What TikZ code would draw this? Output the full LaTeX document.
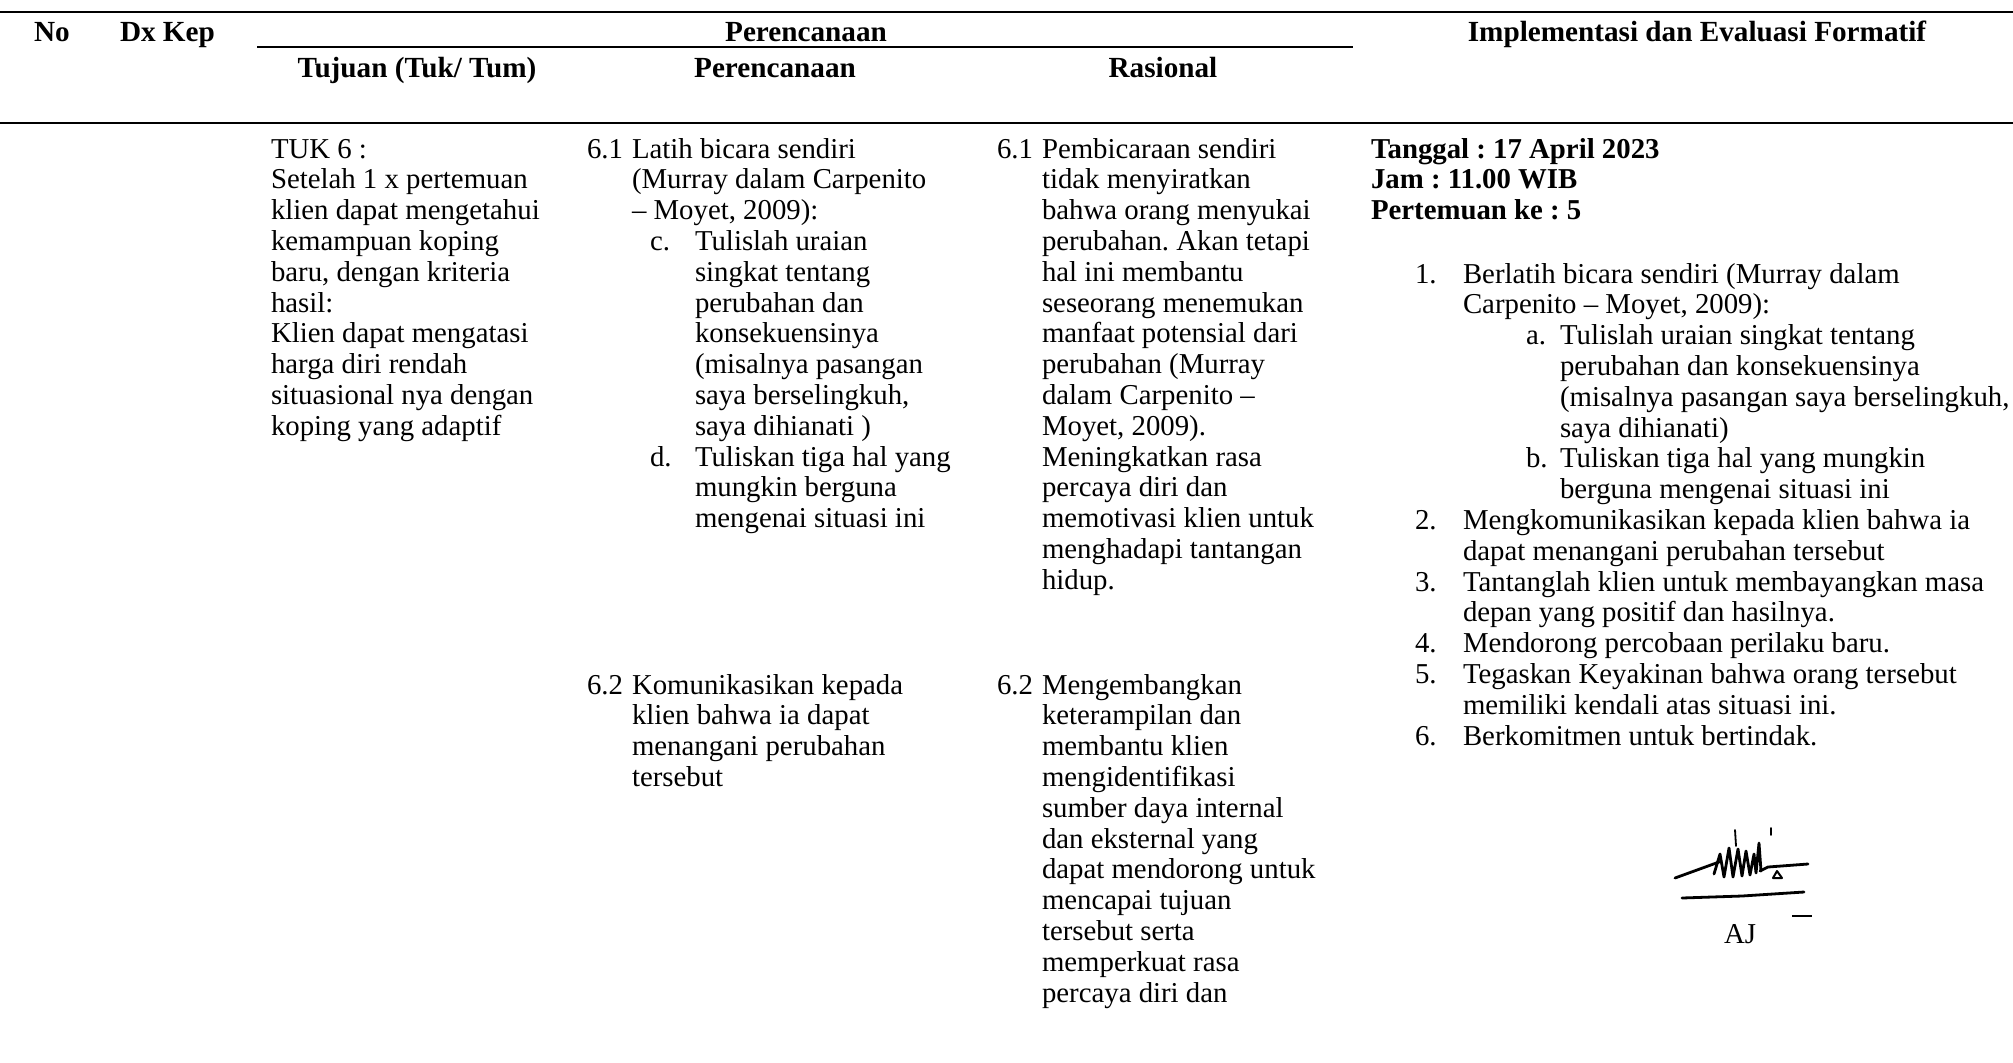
\documentclass[tikz,border=0pt]{standalone}
\usepackage{fontspec}
\setmainfont{Liberation Serif}
\frenchspacing
\newcommand{\rowsblock}[1]{\begin{tabular}[t]{@{}l@{}}#1\end{tabular}}
\begin{document}
\begin{tikzpicture}[x=0.5pt,y=-0.5pt,
  every node/.style={inner sep=0pt,outer sep=0pt,font=\fontsize{14.4}{15.4}\selectfont},
  txt/.style={anchor=base west},
  hdr/.style={anchor=base,font=\fontsize{14.6}{15.4}\selectfont\bfseries},
  hdrl/.style={anchor=base west,font=\fontsize{14.6}{15.4}\selectfont\bfseries},
  rule/.style={line width=1.25pt},
  sig/.style={line width=1.4pt,line cap=round,line join=round}]
\useasboundingbox (0,0) rectangle (2013,1062);
% table rules
\draw[rule] (0,12) -- (2013,12);
\draw[rule] (257,47) -- (1353,47);
\draw[rule] (0,123) -- (2013,123);
% header row
\node[hdrl] (hno) at (34,41.5) {No};
\node[hdrl] (hdx) at (120,41.5) {Dx Kep};
\node[hdr] (hper) at (806,41.5) {Perencanaan};
\node[hdr] (himp) at (1697,41.5) {Implementasi dan Evaluasi Formatif};
\node[hdr] (htuj) at (417,77) {Tujuan (Tuk/ Tum)};
\node[hdr] (hper2) at (775,77) {Perencanaan};
\node[hdr] (hras) at (1163,77) {Rasional};
% column: tujuan
\node[txt] (tuk) at (271,158) {\rowsblock{TUK 6 :\\ Setelah 1 x pertemuan\\ klien dapat mengetahui\\ kemampuan koping\\ baru, dengan kriteria\\ hasil:\\ Klien dapat mengatasi\\ harga diri rendah\\ situasional nya dengan\\ koping yang adaptif}};
% column: perencanaan
\node[txt] (p61n) at (587,158) {6.1};
\node[txt] (p61) at (632,158) {\rowsblock{Latih bicara sendiri\\ (Murray dalam Carpenito\\ – Moyet, 2009):}};
\node[txt] (pcn) at (650,250.4) {c.};
\node[txt] (pc) at (695,250.4) {\rowsblock{Tulislah uraian\\ singkat tentang\\ perubahan dan\\ konsekuensinya\\ (misalnya pasangan\\ saya berselingkuh,\\ saya dihianati )}};
\node[txt] (pdn) at (650,466) {d.};
\node[txt] (pd) at (695,466) {\rowsblock{Tuliskan tiga hal yang\\ mungkin berguna\\ mengenai situasi ini}};
\node[txt] (p62n) at (587,694) {6.2};
\node[txt] (p62) at (632,694) {\rowsblock{Komunikasikan kepada\\ klien bahwa ia dapat\\ menangani perubahan\\ tersebut}};
% column: rasional
\node[txt] (r61n) at (997,158) {6.1};
\node[txt] (r61) at (1042,158) {\rowsblock{Pembicaraan sendiri\\ tidak menyiratkan\\ bahwa orang menyukai\\ perubahan. Akan tetapi\\ hal ini membantu\\ seseorang menemukan\\ manfaat potensial dari\\ perubahan (Murray\\ dalam Carpenito –\\ Moyet, 2009).\\ Meningkatkan rasa\\ percaya diri dan\\ memotivasi klien untuk\\ menghadapi tantangan\\ hidup.}};
\node[txt] (r62n) at (997,694) {6.2};
\node[txt] (r62) at (1042,694) {\rowsblock{Mengembangkan\\ keterampilan dan\\ membantu klien\\ mengidentifikasi\\ sumber daya internal\\ dan eksternal yang\\ dapat mendorong untuk\\ mencapai tujuan\\ tersebut serta\\ memperkuat rasa\\ percaya diri dan}};
% column: implementasi
\node[txt,font=\fontsize{14.4}{15.4}\selectfont\bfseries] (ihead) at (1371,158) {\rowsblock{Tanggal : 17 April 2023\\ Jam : 11.00 WIB\\ Pertemuan ke : 5}};
\node[txt] (i1n) at (1415,283) {1.};
\node[txt] (i1) at (1463,283) {\rowsblock{Berlatih bicara sendiri (Murray dalam\\ Carpenito – Moyet, 2009):}};
\node[txt] (ian) at (1526,344.6) {a.};
\node[txt] (ia) at (1560,344.6) {\rowsblock{Tulislah uraian singkat tentang\\ perubahan dan konsekuensinya\\ (misalnya pasangan saya berselingkuh,\\ saya dihianati)}};
\node[txt] (ibn) at (1526,467.8) {b.};
\node[txt] (ib) at (1560,467.8) {\rowsblock{Tuliskan tiga hal yang mungkin\\ berguna mengenai situasi ini}};
\node[txt] (i2n) at (1415,529.4) {2.};
\node[txt] (i2) at (1463,529.4) {\rowsblock{Mengkomunikasikan kepada klien bahwa ia\\ dapat menangani perubahan tersebut}};
\node[txt] (i3n) at (1415,591) {3.};
\node[txt] (i3) at (1463,591) {\rowsblock{Tantanglah klien untuk membayangkan masa\\ depan yang positif dan hasilnya.}};
\node[txt] (i4n) at (1415,652.6) {4.};
\node[txt] (i4) at (1463,652.6) {Mendorong percobaan perilaku baru.};
\node[txt] (i5n) at (1415,683.4) {5.};
\node[txt] (i5) at (1463,683.4) {\rowsblock{Tegaskan Keyakinan bahwa orang tersebut\\ memiliki kendali atas situasi ini.}};
\node[txt] (i6n) at (1415,745) {6.};
\node[txt] (i6) at (1463,745) {Berkomitmen untuk bertindak.};
% handwritten signature
\draw[sig] (1675,878) -- (1719,862);
\draw[sig] (1714,874) -- (1720,854) -- (1724,877) -- (1729,848) -- (1733,877) -- (1738,849) -- (1742,876) -- (1746,851) -- (1750,875) -- (1754,854) -- (1756,873) -- (1759,843) -- (1761,871);
\draw[sig,line width=0.9pt] (1735,830) -- (1736,846);
\draw[sig,line width=0.9pt] (1771,828) -- (1771,835);
\draw[sig] (1760,871) -- (1768,867) -- (1808,864);
\draw[sig,line width=1pt] (1773,878) -- (1777,871) -- (1782,878) -- cycle;
\draw[sig] (1682,898) -- (1742,896) -- (1804,892);
\draw[line width=0.6pt] (1792,916) -- (1812,916);
\node[anchor=base] (aj) at (1740,943) {AJ};
\end{tikzpicture}
\end{document}
